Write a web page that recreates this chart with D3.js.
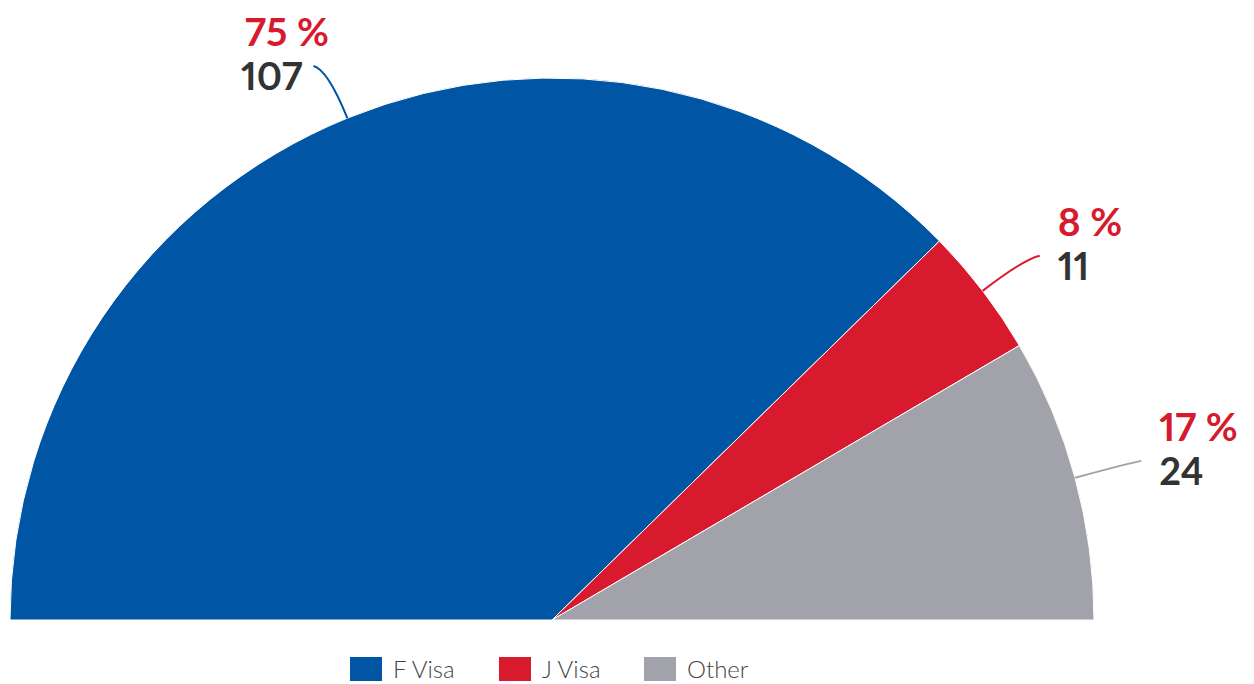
<!DOCTYPE html>
<html>
<head>
<meta charset="utf-8">
<script src="https://cdn.jsdelivr.net/npm/d3@7"></script>
<style>
  body { margin: 0; background: #fff; }
  svg { display: block; font-family: Lato, "Open Sans", sans-serif; }
  .pct { fill: #d71a2e; font-weight: 700; font-size: 39px; font-variant-numeric: proportional-nums; }
  .num { fill: #333; font-weight: 700; font-size: 38px; font-variant-numeric: proportional-nums; }
  .legend text { fill: #444; font-size: 24px; font-weight: 300; }
</style>
</head>
<body>
<svg id="chart" width="1254" height="684"></svg>
<script>
var categories = ["F Visa", "J Visa", "Other"];
var counts = [107, 11, 24];
var percentLabels = ["75 %", "8 %", "17 %"];
var colors = ["#0055a5", "#d71a2e", "#a2a2aa"];

var svg = d3.select("#chart");
var cx = 552, cy = 620, radius = 542;

var pie = d3.pie()
    .sort(null)
    .startAngle(-Math.PI / 2)
    .endAngle(Math.PI / 2);

var arc = d3.arc().innerRadius(0).outerRadius(radius);

var arcs = pie(counts);

var g = svg.append("g").attr("transform", `translate(${cx},${cy})`);

g.selectAll("path.slice")
    .data(arcs)
    .enter()
    .append("path")
    .attr("class", "slice")
    .attr("d", arc)
    .attr("fill", (d, i) => colors[i])
    .attr("stroke", "#fff")
    .attr("stroke-width", 1);

// point on a circle of radius r at angle a (d3 angle, clockwise from top)
function polar(r, a) {
    return [r * Math.sin(a), -r * Math.cos(a)];
}

// leader lines + labels
arcs.forEach(function(d, i) {
    var mid = (d.startAngle + d.endAngle) / 2;
    var right = mid > 0;
    var p1 = polar(radius, mid);
    var p2 = polar(595, mid);
    var p3 = [p2[0] + (right ? 15 : -14), p2[1] - 3];

    var path = d3.path();
    path.moveTo(p1[0], p1[1]);
    path.quadraticCurveTo(p2[0], p2[1], p3[0], p3[1]);

    g.append("path")
        .attr("d", path.toString())
        .attr("fill", "none")
        .attr("stroke", colors[i])
        .attr("stroke-width", 2);

    var numText = g.append("text")
        .attr("class", "num")
        .attr("y", p3[1] + 24)
        .text(counts[i]);

    var tx;
    if (right) {
        tx = p3[0] + 18;
    } else {
        tx = p3[0] - 11 - numText.node().getComputedTextLength();
    }
    numText.attr("x", tx);

    g.append("text")
        .attr("class", "pct")
        .attr("x", right ? tx : tx + 4)
        .attr("y", p3[1] - 20)
        .text(percentLabels[i]);
});

// legend
var legendX = [350, 499, 644];
var legend = svg.append("g").attr("class", "legend");
var items = legend.selectAll("g")
    .data(categories)
    .enter()
    .append("g")
    .attr("transform", (d, i) => `translate(${legendX[i]},657)`);

items.append("rect")
    .attr("width", 32)
    .attr("height", 24)
    .attr("fill", (d, i) => colors[i]);

items.append("text")
    .attr("x", 43)
    .attr("y", 21)
    .text(d => d);
</script>
</body>
</html>
